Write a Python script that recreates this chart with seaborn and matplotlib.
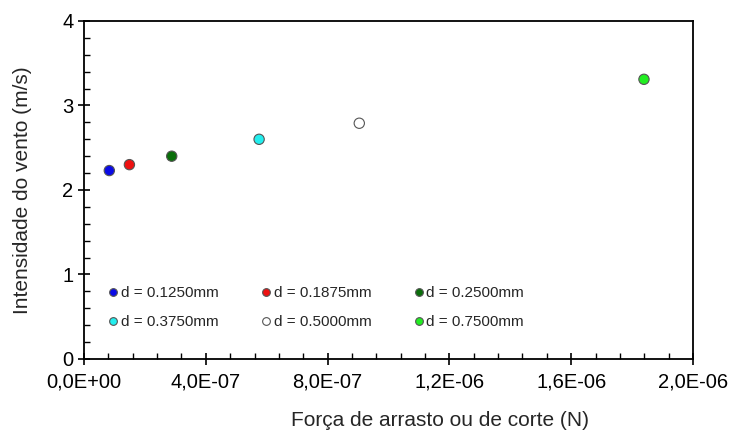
import matplotlib
matplotlib.use("Agg")
import matplotlib.pyplot as plt
import seaborn as sns
import pandas as pd
from matplotlib.ticker import FuncFormatter, MultipleLocator

labels = ["d = 0.1250mm", "d = 0.1875mm", "d = 0.2500mm",
          "d = 0.3750mm", "d = 0.5000mm", "d = 0.7500mm"]
forca = [0.083e-6, 0.149e-6, 0.288e-6, 0.575e-6, 0.904e-6, 1.839e-6]
vento = [2.23, 2.30, 2.40, 2.60, 2.79, 3.31]
cores = ["#0a0ae6", "#ee1111", "#0a6e0a", "#22eeee", "#ffffff", "#22ee22"]
x_ticks = [0, 4e-7, 8e-7, 1.2e-6, 1.6e-6, 2.0e-6]
y_ticks = [0, 1, 2, 3, 4]

sns.set_style("ticks")
plt.rcParams["font.family"] = ["Liberation Sans", "DejaVu Sans"]

df = pd.DataFrame({"forca": forca, "vento": vento, "d": labels})

fig = plt.figure(figsize=(7.32, 4.32), dpi=100)
ax = fig.add_axes([0.1148, 0.169, 0.8319, 0.7824])

sns.scatterplot(data=df, x="forca", y="vento", hue="d", hue_order=labels,
                palette=dict(zip(labels, cores)), s=55, edgecolor="#555555",
                linewidth=0.8, ax=ax, legend=True, zorder=3)

ax.set_xlim(0, 2.0e-6)
ax.set_ylim(0, 4)
ax.set_xticks(x_ticks)
ax.set_yticks(y_ticks)
ax.xaxis.set_minor_locator(MultipleLocator(8e-8))
ax.yaxis.set_minor_locator(MultipleLocator(0.2))
ax.xaxis.set_major_formatter(FuncFormatter(lambda v, p: f"{v:.1E}".replace(".", ",")))
ax.yaxis.set_major_formatter(FuncFormatter(lambda v, p: f"{v:.0f}"))
ax.tick_params(which="major", direction="inout", length=8, width=1.2, colors="black",
               labelsize=14.5, top=False, right=False)
ax.tick_params(axis="x", which="major", pad=6)
ax.tick_params(which="minor", direction="in", length=4, width=1.0, colors="black",
               top=False, right=False)
for sp in ax.spines.values():
    sp.set_visible(True)
    sp.set_linewidth(1.3)
    sp.set_color("black")

ax.set_xlabel("Força de arrasto ou de corte (N)", fontsize=15)
ax.set_ylabel("Intensidade do vento (m/s)", fontsize=15)
ax.xaxis.set_label_coords(0.585, -0.153)
ax.yaxis.set_label_coords(-0.086, 0.5)

handles, lbls = ax.get_legend_handles_labels()
hmap = dict(zip(lbls, handles))
order = [labels[0], labels[3], labels[1], labels[4], labels[2], labels[5]]
leg = ax.legend([hmap[l] for l in order], order, ncol=3, frameon=False,
                loc="lower left", bbox_to_anchor=(0.013, 0.047), fontsize=11,
                markerscale=0.75, handletextpad=0.0, columnspacing=2.6,
                labelspacing=1.0, handlelength=1.0)

fig.savefig("out.png", dpi=100)
